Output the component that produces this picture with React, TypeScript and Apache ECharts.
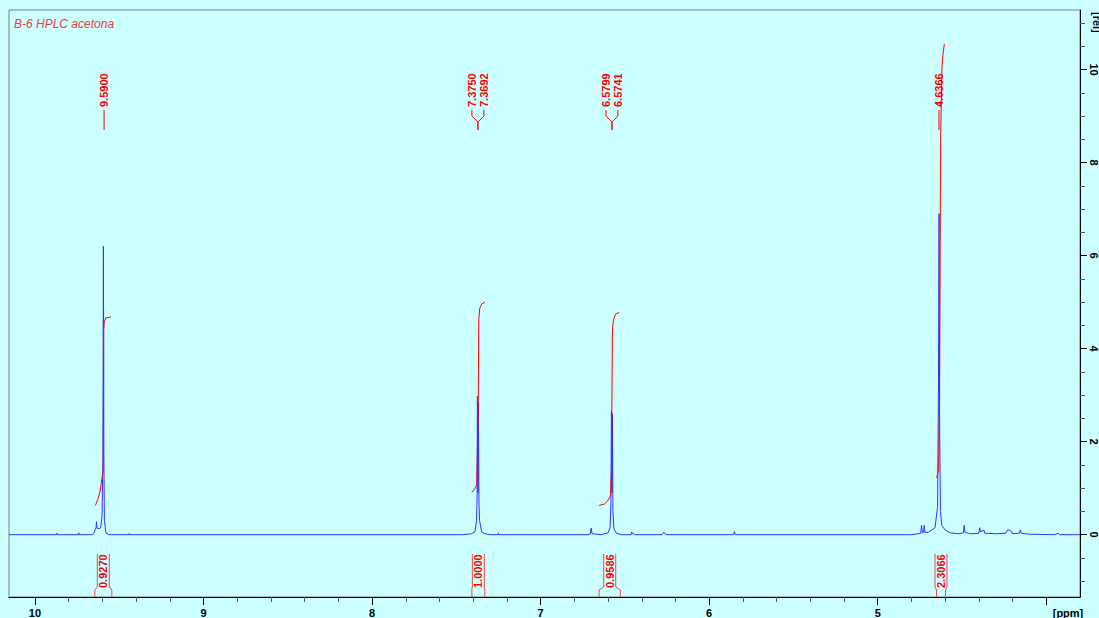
import React, { useEffect, useRef } from "react";
import * as echarts from "echarts";

const TITLE = "B-6 HPLC acetona";
const X_UNIT = "[ppm]";
const Y_UNIT = "[rel]";

const ppmRange = [3.8, 10.154];
const relRange = [-1.34, 11.28];

const xMajorTicks = [10, 9, 8, 7, 6, 5, 4];
const xTickLabels = [10, 9, 8, 7, 6, 5];
const xMinorTicks = [9.8, 9.6, 9.4, 9.2, 8.8, 8.6, 8.4, 8.2, 7.8, 7.6, 7.4, 7.2, 6.8, 6.6, 6.4, 6.2, 5.8, 5.6, 5.4, 5.2, 4.8, 4.6, 4.4, 4.2];
const yMajorTicks = [0, 2, 4, 6, 8, 10];
const yMinorTicks = [-1, -0.5, 0.5, 1, 1.5, 2.5, 3, 3.5, 4.5, 5, 5.5, 6.5, 7, 7.5, 8.5, 9, 9.5, 10.5, 11];

const spectrum: [number, number][] = [
  [10.154, 0], [9.872, 0], [9.87, 0.03], [9.868, 0], [9.742, 0], [9.74, 0.04], [9.738, 0],
  [9.66, 0], [9.65, 0.03], [9.642, 0.12], [9.638, 0.14], [9.635, 0.28], [9.632, 0.14],
  [9.62, 0.13], [9.61, 0.15], [9.602, 0.4], [9.597, 1.6], [9.594, 6.2], [9.591, 1.6],
  [9.588, 0.3], [9.585, 0.23], [9.58, 0.06], [9.575, 0.02], [9.57, 0.03], [9.565, 0],
  [9.442, 0], [9.44, 0.03], [9.438, 0],
  [7.46, 0], [7.41, 0.02], [7.39, 0.06], [7.38, 0.3], [7.377, 0.8], [7.375, 2.98],
  [7.372, 0.9], [7.369, 2.85], [7.366, 0.7], [7.362, 0.3], [7.35, 0.06], [7.33, 0.02],
  [7.3, 0], [7.252, 0], [7.25, 0.04], [7.248, 0],
  [6.72, 0], [6.705, 0.02], [6.7, 0.14], [6.695, 0.02], [6.64, 0], [6.6, 0.04],
  [6.588, 0.15], [6.583, 0.6], [6.58, 2.66], [6.577, 0.9], [6.574, 2.6], [6.571, 0.5],
  [6.565, 0.12], [6.55, 0.03], [6.52, 0], [6.463, 0], [6.46, 0.06], [6.455, 0.02],
  [6.45, 0.03], [6.44, 0], [6.28, 0], [6.27, 0.05], [6.26, 0.02], [6.25, 0],
  [5.855, 0], [5.85, 0.07], [5.845, 0],
  [4.8, 0], [4.76, 0.02], [4.745, 0.03], [4.74, 0.2], [4.735, 0.04], [4.728, 0.05],
  [4.724, 0.2], [4.72, 0.05], [4.7, 0.05], [4.66, 0.15], [4.645, 0.6], [4.64, 3.0],
  [4.636, 6.9], [4.633, 2.5], [4.628, 0.5], [4.62, 0.2], [4.6, 0.1], [4.57, 0.04],
  [4.52, 0.02], [4.492, 0.04], [4.487, 0.2], [4.482, 0.05], [4.45, 0.02], [4.4, 0.03],
  [4.395, 0.15], [4.39, 0.06], [4.37, 0.1], [4.365, 0.03], [4.3, 0.02], [4.24, 0.03],
  [4.23, 0.1], [4.22, 0.1], [4.21, 0.08], [4.2, 0.02], [4.16, 0.03], [4.154, 0.1],
  [4.148, 0.03], [4.1, 0.01], [3.95, 0], [3.93, 0.03], [3.92, 0], [3.8, 0],
];

const integral1: [number, number][] = [
  [9.641, 0.63], [9.627, 0.76], [9.615, 0.91], [9.602, 1.22], [9.595, 1.39],
  [9.592, 4.4], [9.589, 4.57], [9.58, 4.66], [9.55, 4.68],
];
const integral2: [number, number][] = [
  [7.408, 0.91], [7.391, 0.98], [7.379, 1.08], [7.37, 2.89], [7.367, 4.61],
  [7.361, 4.87], [7.349, 4.96], [7.331, 5.0],
];
const integral3: [number, number][] = [
  [6.653, 0.63], [6.621, 0.66], [6.604, 0.72], [6.586, 0.83], [6.58, 1.39],
  [6.574, 4.4], [6.568, 4.61], [6.556, 4.74], [6.533, 4.78],
];
const integral4: [number, number][] = [
  [4.651, 1.22], [4.639, 1.39], [4.633, 2.89], [4.627, 8.48], [4.619, 10.05],
  [4.615, 10.25], [4.611, 10.38], [4.605, 10.55],
];

const peakGroup1 = ["9.5900"];
const peakGroup2 = ["7.3750", "7.3692"];
const peakGroup3 = ["6.5799", "6.5741"];
const peakGroup4 = ["4.6366"];

const integralRanges: [number, number][] = [
  [9.645, 9.544], [7.408, 7.331], [6.653, 6.527], [4.651, 4.598],
];
const integralValues = ["0.9270", "1.0000", "0.9586", "2.3066"];

const FONT = '"Liberation Sans", Arial, sans-serif';
const RED = "#ff0000";
const BLUE = "#3333ff";

export default function App() {
  const ref = useRef<HTMLDivElement>(null);
  useEffect(() => {
    document.body.style.margin = "0";
    document.body.style.background = "#ccffff";
    const chart = echarts.init(ref.current!, null, { renderer: "svg" });
    const xBase = {
      type: "value",
      min: ppmRange[0],
      max: ppmRange[1],
      inverse: true,
      position: "bottom",
      splitLine: { show: false },
    };
    const yBase = {
      type: "value",
      min: relRange[0],
      max: relRange[1],
      position: "right",
      splitLine: { show: false },
    };
    chart.setOption({
      animation: false,
      backgroundColor: "#ccffff",
      grid: { left: 9, top: 10, right: 15, bottom: 21, show: true, borderColor: "#7f7f7f", borderWidth: 1 },
      xAxis: [
        {
          ...xBase,
          axisLine: { show: true, onZero: false, lineStyle: { color: "#000", width: 1 } },
          axisTick: { show: true, length: 8, customValues: xMajorTicks, lineStyle: { color: "#000" } },
          axisLabel: {
            customValues: xTickLabels, margin: 10, color: "#000", fontFamily: FONT,
            fontWeight: "bold", fontSize: 11,
          },
        },
        {
          ...xBase,
          axisLine: { show: false, onZero: false },
          axisTick: { show: true, length: 5, customValues: xMinorTicks, lineStyle: { color: "#555" } },
          axisLabel: { show: false },
        },
      ],
      yAxis: [
        {
          ...yBase,
          axisLine: { show: true, onZero: false, lineStyle: { color: "#000", width: 1 } },
          axisTick: { show: true, length: 7, customValues: yMajorTicks, lineStyle: { color: "#000" } },
          axisLabel: {
            customValues: yMajorTicks, rotate: -90, margin: 8, color: "#000",
            fontFamily: FONT, fontWeight: "bold", fontSize: 11,
          },
        },
        {
          ...yBase,
          axisLine: { show: false, onZero: false },
          axisTick: { show: true, length: 5, customValues: yMinorTicks, lineStyle: { color: "#555" } },
          axisLabel: { show: false },
        },
      ],
      series: [
        {
          type: "line", data: spectrum, showSymbol: false, clip: true,
          lineStyle: { color: BLUE, width: 1 }, z: 2,
        },
        ...[integral1, integral2, integral3, integral4].map((d) => ({
          type: "line", data: d, showSymbol: false, clip: true,
          lineStyle: { color: RED, width: 1 }, z: 3,
        })),
      ],
    });

    const px = (v: number) => chart.convertToPixel({ xAxisIndex: 0 }, v) as number;
    const labelFont = `bold 11px ${FONT}`;
    const graphics: any[] = [
      {
        type: "text", x: 14, y: 24,
        style: { text: TITLE, font: `italic 12px ${FONT}`, fill: "#e8403c", align: "left", verticalAlign: "middle" },
      },
      {
        type: "text", x: 1068, y: 613,
        style: { text: X_UNIT, font: labelFont, fill: "#000", align: "center", verticalAlign: "middle" },
      },
      {
        type: "text", x: 1097, y: 12, rotation: -Math.PI / 2,
        style: { text: Y_UNIT, font: labelFont, fill: "#000", align: "left", verticalAlign: "middle" },
      },
    ];

    const groups = [peakGroup1, peakGroup2, peakGroup3, peakGroup4];
    groups.forEach((g) => {
      const pxs = g.map((s) => px(parseFloat(s)));
      const mean = pxs.reduce((a, b) => a + b, 0) / pxs.length;
      g.forEach((s, i) => {
        const lx = mean + (i - (g.length - 1) / 2) * 12;
        graphics.push({
          type: "text", x: lx, y: 107, rotation: Math.PI / 2,
          style: { text: s, font: labelFont, fill: RED, align: "left", verticalAlign: "middle" },
        });
        const pts = g.length === 1
          ? [[lx, 110], [lx, 130]]
          : [[lx, 110], [lx, 116], [mean, 122], [mean, 130]];
        graphics.push({
          type: "polyline", shape: { points: pts },
          style: { stroke: RED, lineWidth: 1, fill: null },
        });
      });
    });

    integralRanges.forEach((r, i) => {
      const a = px(r[0]);
      const b = px(r[1]);
      const c = (a + b) / 2;
      graphics.push({
        type: "polyline", shape: { points: [[a, 597], [a, 590], [c - 6, 587], [c - 6, 554]] },
        style: { stroke: "#f04848", lineWidth: 1, fill: null },
      });
      graphics.push({
        type: "polyline", shape: { points: [[b, 597], [b, 590], [c + 6, 587], [c + 6, 554]] },
        style: { stroke: "#f04848", lineWidth: 1, fill: null },
      });
      graphics.push({
        type: "text", x: c, y: 588, rotation: Math.PI / 2,
        style: { text: integralValues[i], font: labelFont, fill: RED, align: "left", verticalAlign: "middle" },
      });
    });

    chart.setOption({ graphic: graphics });
    return () => chart.dispose();
  }, []);
  return <div ref={ref} style={{ width: 1099, height: 618, background: "#ccffff" }} />;
}
